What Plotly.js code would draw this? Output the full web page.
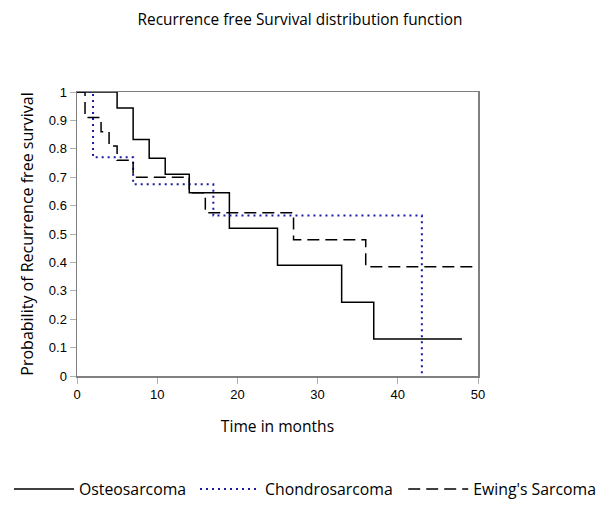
<!DOCTYPE html>
<html>
<head>
<meta charset="utf-8">
<script src="https://cdn.plot.ly/plotly-3.0.1.min.js"></script>
<style>body{margin:0;padding:0;background:#fff;} #chart{width:600px;height:509px;}</style>
</head>
<body>
<div id="chart"></div>
<script>
const osteoTime = [0, 5, 7, 9, 11, 14, 19, 25, 33, 37, 48];
const osteoSurv = [1, 0.944, 0.833, 0.767, 0.71, 0.645, 0.52, 0.39, 0.26, 0.13, 0.13];
const chondroTime = [0, 2, 7, 17, 43];
const chondroSurv = [1, 0.77, 0.675, 0.565, 0];
const ewingTime = [0, 1, 3, 4, 5, 7, 14, 16, 27, 36, 50];
const ewingSurv = [1, 0.91, 0.86, 0.81, 0.76, 0.70, 0.645, 0.575, 0.48, 0.385, 0.385];
const seriesNames = ["Osteosarcoma", "Chondrosarcoma", "Ewing's Sarcoma"];
const xTicks = [0, 10, 20, 30, 40, 50];
const yTicks = [0, 0.1, 0.2, 0.3, 0.4, 0.5, 0.6, 0.7, 0.8, 0.9, 1];

const traces = [
  {x: osteoTime, y: osteoSurv, name: seriesNames[0], mode: 'lines', legend: 'legend',
   line: {shape: 'hv', color: '#000000', width: 1.5, dash: 'solid'}},
  {x: chondroTime, y: chondroSurv, name: seriesNames[1], mode: 'lines', legend: 'legend2',
   line: {shape: 'hv', color: '#1a1aa6', width: 2, dash: '2px,4px'}},
  {x: ewingTime, y: ewingSurv, name: seriesNames[2], mode: 'lines', legend: 'legend3',
   line: {shape: 'hv', color: '#000000', width: 1.5, dash: '12px,6px'}}
];

const legendFont = {family: 'Open Sans, sans-serif', size: 15.8, color: '#000'};
function legendAt(xpos) {
  return {orientation: 'h', x: xpos, xref: 'container', xanchor: 'left',
          y: 0.039, yref: 'container', yanchor: 'middle', font: legendFont,
          itemwidth: 60, bgcolor: 'rgba(0,0,0,0)'};
}

const layout = {
  width: 600, height: 509,
  margin: {l: 77, r: 122, t: 92, b: 133},
  paper_bgcolor: '#ffffff', plot_bgcolor: '#ffffff',
  font: {family: 'Arial, Liberation Sans, sans-serif', color: '#000', size: 12},
  title: {text: 'Recurrence free Survival distribution function',
          font: {family: 'Open Sans, sans-serif', size: 15.4, color: '#000'},
          x: 0.5, xref: 'container', xanchor: 'center', y: 0.962, yanchor: 'middle'},
  xaxis: {range: [0, 50], tickvals: xTicks, ticktext: xTicks.map(String),
          showline: true, linecolor: '#808080', linewidth: 1.5, mirror: true,
          ticks: 'outside', ticklen: 6, tickcolor: '#b0b0b0', showgrid: false, zeroline: false,
          tickfont: {size: 13}, fixedrange: true,
          title: {text: 'Time in months', font: {family: 'Open Sans, sans-serif', size: 15.6}, standoff: 20}},
  yaxis: {range: [0, 1], tickvals: yTicks, ticktext: yTicks.map(String),
          showline: true, linecolor: '#808080', linewidth: 1.5, mirror: true,
          ticks: 'outside', ticklen: 6, tickcolor: '#b0b0b0', showgrid: false, zeroline: false,
          tickfont: {size: 13}, fixedrange: true,
          title: {text: 'Probability of Recurrence free survival', font: {family: 'Open Sans, sans-serif', size: 16}, standoff: 11}},
  legend: legendAt(0.015),
  legend2: legendAt(0.325),
  legend3: legendAt(0.672),
  showlegend: true
};

Plotly.newPlot('chart', traces, layout, {staticPlot: true, displayModeBar: false});
</script>
</body>
</html>
